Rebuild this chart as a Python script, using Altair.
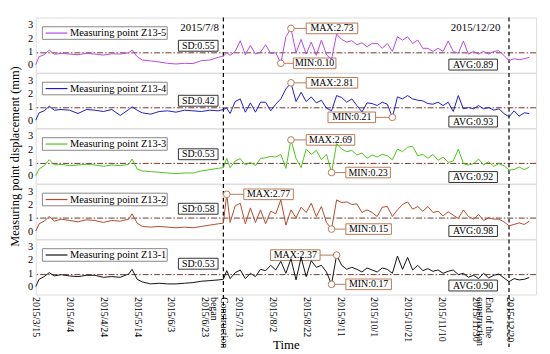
import altair as alt
import pandas as pd

# ------------------------------------------------------------------ data
dates = [
    "2015-03-15", "2015-03-17", "2015-03-20", "2015-03-23", "2015-03-26", "2015-03-30",
    "2015-04-04", "2015-04-09", "2015-04-14", "2015-04-19", "2015-04-24", "2015-04-29",
    "2015-05-04", "2015-05-09", "2015-05-11", "2015-05-14", "2015-05-17", "2015-05-22",
    "2015-05-27", "2015-06-01", "2015-06-06", "2015-06-11", "2015-06-16", "2015-06-21",
    "2015-06-26", "2015-07-01", "2015-07-04",
    "2015-07-06", "2015-07-08", "2015-07-11", "2015-07-14", "2015-07-17", "2015-07-20",
    "2015-07-23", "2015-07-26", "2015-07-29", "2015-08-01", "2015-08-04", "2015-08-07",
    "2015-08-10", "2015-08-13", "2015-08-16", "2015-08-19", "2015-08-22", "2015-08-25",
    "2015-08-28", "2015-08-31", "2015-09-03", "2015-09-06", "2015-09-09", "2015-09-12",
    "2015-09-15", "2015-09-18", "2015-09-21", "2015-09-24", "2015-09-27", "2015-09-30",
    "2015-10-03", "2015-10-06", "2015-10-09", "2015-10-12", "2015-10-15", "2015-10-18",
    "2015-10-21", "2015-10-24", "2015-10-27", "2015-10-30", "2015-11-02", "2015-11-05",
    "2015-11-08", "2015-11-11", "2015-11-14", "2015-11-17", "2015-11-20", "2015-11-23",
    "2015-11-26", "2015-11-29", "2015-12-02", "2015-12-05", "2015-12-08", "2015-12-11",
    "2015-12-14", "2015-12-17",
    "2015-12-20", "2015-12-23", "2015-12-26", "2015-12-29", "2016-01-01",
]

z13_5 = [
    0.0, 0.6, 0.75, 1.1, 0.78, 0.85, 0.8, 0.75, 0.85, 0.8, 0.72, 0.82, 0.8, 0.9, 1.1, 0.6,
    0.35, 0.28, 0.2, 0.1, 0.05, 0.1, 0.08, 0.3, 0.35, 0.55, 0.65,
    0.9, 0.7, 1.0, 1.8, 0.75, 1.45, 0.8, 0.95, 1.5, 0.85, 0.9, 0.10, 2.1, 2.73, 0.9, 1.9,
    0.8, 1.7, 0.7, 1.85, 0.75, 0.4, 2.3, 1.9, 1.7, 1.8, 1.5, 1.65, 1.35, 1.6,
    1.6, 1.23, 1.6, 1.0, 2.1, 1.85, 2.1, 1.6, 1.85, 1.23, 1.23, 1.0, 1.23, 1.0, 1.78, 1.0,
    0.86, 1.78, 0.79, 1.0, 0.79, 1.0, 0.79, 1.0, 1.04, 0.7, 0.3, 0.45, 0.37, 0.45, 0.55,
]
z13_4 = [
    0.0, 0.55, 0.7, 1.05, 0.75, 0.8, 0.75, 0.5, 0.8, 0.75, 0.65, 0.8, 0.35, 0.8, 1.0, 0.75,
    0.55, 0.45, 0.65, 0.7, 0.6, 0.75, 0.7, 0.65, 0.75, 0.7, 0.8,
    0.9, 0.5, 1.4, 1.6, 0.6, 1.3, 0.6, 1.35, 1.35, 0.7, 1.2, 1.6, 2.35, 2.81, 1.4, 2.1,
    1.4, 1.75, 1.3, 1.5, 0.9, 0.7, 1.85, 1.7, 1.35, 1.6, 1.1, 0.62, 1.3, 1.25,
    1.1, 1.35, 1.2, 0.21, 1.75, 1.6, 1.85, 1.6, 1.5, 1.45, 1.25, 1.2, 1.35, 1.1, 1.35, 0.65,
    1.85, 0.85, 0.95, 0.85, 1.1, 0.85, 0.95, 0.75, 0.85, 0.5, 0.25, 0.7, 0.3, 0.55, 0.5,
]
z13_3 = [
    0.0, 0.5, 0.75, 1.2, 0.8, 0.85, 0.75, 0.8, 0.85, 0.8, 0.7, 0.8, 0.75, 0.85, 1.25, 0.5,
    0.35, 0.3, 0.25, 0.2, 0.15, 0.2, 0.2, 0.35, 0.45, 0.55, 0.6,
    1.3, 0.6, 1.1, 1.28, 0.8, 1.0, 0.75, 1.3, 1.35, 1.45, 1.4, 1.6, 0.55, 2.69, 1.3, 0.6,
    2.0, 1.6, 1.9, 1.2, 1.6, 0.23, 2.4, 2.0, 1.8, 1.9, 1.55, 1.7, 1.3, 1.55,
    1.4, 1.6, 1.5, 1.2, 2.0, 1.8, 2.15, 2.2, 1.5, 1.6, 1.3, 1.6, 1.15, 1.4, 1.0, 1.1,
    2.0, 0.9, 0.8, 0.9, 1.25, 0.8, 1.05, 0.7, 0.9, 0.75, 0.42, 0.45, 0.65, 0.45, 0.65,
]
z13_2 = [
    0.0, 0.55, 0.75, 1.1, 0.75, 0.9, 0.8, 0.7, 0.85, 0.8, 0.65, 0.8, 0.75, 0.9, 1.3, 0.6,
    0.35, 0.3, 0.35, 0.3, 0.25, 0.3, 0.25, 0.35, 0.45, 0.55, 0.6,
    2.77, 0.65, 1.9, 2.1, 0.55, 1.75, 0.65, 1.6, 0.55, 1.5, 1.3, 2.35, 0.45, 1.6, 1.0, 1.8,
    1.4, 2.1, 1.1, 1.85, 0.65, 0.15, 2.35, 2.15, 2.2, 2.0, 2.05, 1.4, 1.6, 1.4,
    1.1, 1.8, 1.85, 1.1, 1.6, 2.0, 2.2, 1.65, 1.85, 1.5, 1.85, 1.4, 1.5, 1.15, 1.45, 1.2,
    0.95, 1.6, 1.1, 0.9, 1.25, 0.8, 1.0, 0.9, 0.9, 0.7, 0.4, 0.5, 0.62, 0.5, 0.75,
]
z13_1 = [
    0.0, 0.55, 0.75, 1.05, 0.8, 0.9, 0.8, 0.75, 0.85, 0.85, 0.7, 0.75, 0.7, 0.95, 1.3, 0.55,
    0.35, 0.2, 0.25, 0.2, 0.2, 0.25, 0.3, 0.4, 0.45, 0.5, 0.55,
    1.2, 0.6, 1.05, 1.25, 0.6, 1.0, 0.75, 1.3, 1.2, 1.6, 1.25, 1.9, 1.0, 2.1, 0.5, 2.2,
    0.75, 1.95, 1.45, 1.6, 1.1, 0.17, 2.37, 1.6, 1.3, 1.45, 1.3, 1.1, 1.4, 1.25,
    1.1, 1.4, 1.3, 1.0, 2.3, 1.3, 2.2, 1.25, 1.6, 1.2, 1.35, 1.15, 1.25, 1.0, 1.15, 1.25,
    0.9, 1.0, 0.7, 0.85, 0.6, 1.0, 0.65, 0.85, 0.95, 0.65, 0.37, 0.6, 0.5, 0.55, 0.68,
]

series = [z13_5, z13_4, z13_3, z13_2, z13_1]
names = ["Measuring point Z13-5", "Measuring point Z13-4", "Measuring point Z13-3",
         "Measuring point Z13-2", "Measuring point Z13-1"]
sd_vals = [0.55, 0.42, 0.53, 0.58, 0.53]
avg_vals = [0.89, 0.93, 0.92, 0.98, 0.90]
max_dates = ["2015-08-13", "2015-08-13", "2015-08-13", "2015-07-06", "2015-09-09"]
max_vals = [2.73, 2.81, 2.69, 2.77, 2.37]
min_dates = ["2015-08-07", "2015-10-12", "2015-09-06", "2015-09-06", "2015-09-06"]
min_vals = [0.10, 0.21, 0.23, 0.15, 0.17]
marker_dates = ["2015-07-04", "2015-12-20"]
marker_labels = ["2015/7/8", "2015/12/20"]
tick_dates = ["2015-03-15", "2015-04-04", "2015-04-24", "2015-05-14", "2015-06-03",
              "2015-06-23", "2015-07-04", "2015-07-13", "2015-08-02", "2015-08-22",
              "2015-09-11", "2015-10-01", "2015-10-21", "2015-11-10", "2015-11-30",
              "2015-12-08", "2015-12-20"]

# ------------------------------------------------------------------ style / layout
colors = ["#b848e6", "#1c1cc8", "#4cc41a", "#b24a2a", "#111111"]
SERIF = "Liberation Serif"
ANN = "#b97a57"
AVGC = "#6e3b2b"
W, H = 505, 55.6

# annotation box pixel layout (relative to each panel's plot area)
sd_top = [23, 22.5, 20.5, 19.5, 19]
avg_top = [42, 43.5, 43.5, 42, 41]
max_box = [(273, 325, 273), (273, 325, 273), (273, 322, 273), (210, 260, 210), (237, 287, 287)]
min_box = [(260, 303, 260), (295, 343, 343), (313, 358, 313), (313, 359, 313), (313, 359, 313)]


def ms(d):
    return int(pd.Timestamp(d, tz="UTC").timestamp() * 1000)


xs = alt.Scale(type="utc", domain=[ms("2015-03-15"), ms("2016-01-05")])
ys = alt.Scale(domain=[-0.6, 3.55], nice=False, zero=False)

NB = "\u00a0" * 9
label_expr = (
    "utcmonth(datum.value)==6 && utcdate(datum.value)==4 ? ['Construction','" + NB + "began'] : "
    "(utcmonth(datum.value)==11 && utcdate(datum.value)==8 ? ['End of the','construction'] : "
    "utcFormat(datum.value,'%Y/%-m/%-d'))"
)

x_axis = alt.Axis(
    values=[ms(d) for d in tick_dates], labelExpr=label_expr, labelAngle=90,
    labelAlign="left", labelBaseline="middle", labelFont=SERIF, labelFontSize=10,
    labelColor="black", labelPadding=2, labelLineHeight=9.5, labelOverlap=False,
    ticks=False, domain=False, grid=False, title="Time", titleFont=SERIF,
    titleFontSize=13, titleFontWeight="normal", titleColor="black",
    titleY=54, titleBaseline="alphabetic",
)


def y_axis(i):
    kw = dict(values=[0, 1, 2, 3], format="d", labelFont=SERIF, labelFontSize=10.5,
              labelColor="black", ticks=False, labelPadding=3, domain=False, grid=False)
    if i == 2:
        return alt.Axis(title="Measuring point displacement (mm)", titleFont=SERIF,
                        titleFontSize=12.5, titleFontWeight="normal", titleColor="black",
                        titlePadding=6, **kw)
    return alt.Axis(title=None, **kw)


one = pd.DataFrame({"k": [0]})


def pixbox(x1, x2, y1, y2, stroke):
    return alt.Chart(one).mark_rect(fill="white", stroke=stroke, strokeWidth=1).encode(
        x=alt.value(x1), x2=alt.value(x2), y=alt.value(y1), y2=alt.value(y2))


def pixtext(x, y, txt, size=10, align="center"):
    return alt.Chart(one).mark_text(font=SERIF, fontSize=size, color="black", align=align,
                                    baseline="middle").encode(
        x=alt.value(x), y=alt.value(y), text=alt.value(txt))


def panel(i):
    bottom = i == 4
    yax = y_axis(i)

    def X():
        if bottom:
            return alt.X("date:T", scale=xs, axis=x_axis)
        return alt.X("date:T", scale=xs, axis=None)

    def Y(field):
        return alt.Y(field, scale=ys, axis=yax)

    layers = []
    # legend
    layers.append(pixbox(6.7, 132.7, 9.3, 22, "#888888"))
    layers.append(alt.Chart(one).mark_rule(color=colors[i], strokeWidth=1.2).encode(
        x=alt.value(10), x2=alt.value(32), y=alt.value(15.7)))
    layers.append(pixtext(34.5, 15.9, names[i], size=10.5, align="left"))
    # SD / AVG boxes
    layers.append(pixbox(144, 184, sd_top[i], sd_top[i] + 11, "#333333"))
    layers.append(pixtext(164, sd_top[i] + 5.7, f"SD:{sd_vals[i]:.2f}"))
    layers.append(pixbox(417, 466, avg_top[i], avg_top[i] + 11, "#333333"))
    layers.append(pixtext(441.5, avg_top[i] + 5.7, f"AVG:{avg_vals[i]:.2f}"))
    # MAX / MIN boxes and connectors
    for (d, v, lab, (bx1, bx2, cx)) in [
        (max_dates[i], max_vals[i], f"MAX:{max_vals[i]:.2f}", max_box[i]),
        (min_dates[i], min_vals[i], f"MIN:{min_vals[i]:.2f}", min_box[i]),
    ]:
        pt = pd.DataFrame({"date": [d], "value": [v], "top": [v + 0.4], "bot": [v - 0.4]})
        layers.append(alt.Chart(pt).mark_rule(color=ANN, strokeWidth=1).encode(
            x=X(), x2=alt.value(cx), y=Y("value:Q")))
        layers.append(alt.Chart(pt).mark_rect(fill="white", stroke=ANN, strokeWidth=1).encode(
            x=alt.value(bx1), x2=alt.value(bx2), y=Y("top:Q"), y2=alt.Y2("bot:Q")))
        layers.append(alt.Chart(pt).mark_text(font=SERIF, fontSize=10, color="black",
                                              align="center", baseline="middle").encode(
            x=alt.value((bx1 + bx2) / 2), y=Y("value:Q"), text=alt.value(lab)))
    # date labels on top panel
    if i == 0:
        layers.append(pixtext(185, 11, marker_labels[0], size=11, align="right"))
        layers.append(pixtext(469, 11, marker_labels[1], size=11, align="right"))
    # average line
    layers.append(alt.Chart(pd.DataFrame({"value": [avg_vals[i]]})).mark_rule(
        color=AVGC, strokeDash=[6, 2, 1.5, 2], strokeWidth=1).encode(y=Y("value:Q")))
    # construction start / end markers
    layers.append(alt.Chart(pd.DataFrame({"date": marker_dates})).mark_rule(
        color="black", strokeDash=[4, 3], strokeWidth=1.2).encode(
        x=X(), y=alt.value(0), y2=alt.value(H + 53 if bottom else H)))
    # the series
    df = pd.DataFrame({"date": dates, "value": series[i]})
    layers.append(alt.Chart(df).mark_line(color=colors[i], strokeWidth=1).encode(
        x=X(), y=Y("value:Q")))
    # max/min circles
    pts = pd.DataFrame({"date": [max_dates[i], min_dates[i]], "value": [max_vals[i], min_vals[i]]})
    layers.append(alt.Chart(pts).mark_point(shape="circle", filled=True, fill="white",
                                            stroke=ANN, strokeWidth=1, size=45, opacity=1).encode(
        x=X(), y=Y("value:Q")))
    return alt.layer(*layers).properties(width=W, height=H)


chart = alt.vconcat(*[panel(i) for i in range(5)], spacing=0, bounds="flush").properties(
    padding={"left": 0, "top": 6, "right": 5, "bottom": 0}
).configure_view(stroke="#999999", strokeWidth=1).configure(font=SERIF)

chart.save("out.html", embed_options={"renderer": "svg", "actions": False})
